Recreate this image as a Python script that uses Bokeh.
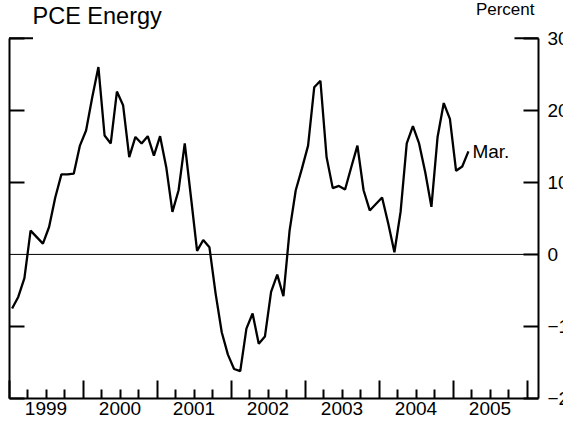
import pandas as pd
from bokeh.plotting import figure
from bokeh.models import Range1d, LinearAxis, FixedTicker, Label
from bokeh.embed import file_html
from bokeh.resources import INLINE

# ---- data ----
months = pd.date_range("1999-01-01", "2005-03-01", freq="MS")
values = [
    -7.5, -5.9, -3.3, 3.3, 2.4, 1.5, 3.8, 7.9, 11.1, 11.1, 11.2, 15.1,      # 1999
    17.2, 21.8, 26.0, 16.5, 15.4, 22.6, 20.7, 13.5, 16.3, 15.4, 16.4, 13.7,  # 2000
    16.4, 12.1, 5.9, 8.9, 15.4, 8.0, 0.5, 2.0, 1.0, -5.4, -10.8, -13.9,      # 2001
    -15.9, -16.2, -10.3, -8.2, -12.4, -11.4, -5.2, -2.8, -5.8, 3.3, 8.9, 11.9,  # 2002
    15.1, 23.2, 24.1, 13.5, 9.2, 9.5, 9.0, 12.1, 15.1, 8.9, 6.1, 7.0,        # 2003
    7.9, 4.3, 0.3, 5.9, 15.4, 17.8, 15.4, 11.4, 6.6, 16.3, 21.0, 18.8,       # 2004
    11.6, 12.2, 14.3,                                                       # 2005
]
years = [1999, 2000, 2001, 2002, 2003, 2004, 2005]
year_labels = ["1999", "2000", "2001", "2002", "2003", "2004", "2005"]
y_ticks = [-20, -10, 0, 10, 20, 30]
left_ticks = [-20, -10, 10, 20, 30]
title_text = "PCE Energy"
unit_text = "Percent"
last_label = "Mar."

xs = [d.year + (d.month - 0.5) / 12 for d in months]

# ---- geometry (page pixels; the canvas sits at the page origin) ----
FONT = "Liberation Sans"
W, H = 563, 423
PX_YR = 74.0
PX_UNIT = 7.207
X_START = years[0] - 8.5 / PX_YR
Y_END = y_ticks[-1] + 37.7 / PX_UNIT
X_RIGHT = years[-1] + 1 + 11.5 / PX_YR
X_LEFT = years[0]

def px_x(px):
    return X_START + px / PX_YR

def px_y(py):
    return Y_END - py / PX_UNIT

p = figure(width=W, height=H, output_backend="svg", toolbar_location=None,
           x_range=Range1d(X_START, X_START + W / PX_YR),
           y_range=Range1d(Y_END - H / PX_UNIT, Y_END),
           x_axis_type=None, y_axis_type=None, min_border=0,
           outline_line_color=None, background_fill_color="white",
           border_fill_color="white")

# left axis (ticks only)
left = LinearAxis(fixed_location=X_LEFT, bounds=(y_ticks[0], y_ticks[-1]),
                  ticker=FixedTicker(ticks=left_ticks),
                  axis_line_width=2, axis_line_color="black",
                  major_tick_line_width=2, major_tick_in=15, major_tick_out=0,
                  minor_tick_line_color=None, major_label_text_color=None)
p.add_layout(left, "left")

# right axis with labels
right = LinearAxis(fixed_location=X_RIGHT, bounds=(y_ticks[0], y_ticks[-1]),
                   ticker=FixedTicker(ticks=y_ticks),
                   axis_line_width=2, axis_line_color="black",
                   major_tick_line_width=2, major_tick_in=15, major_tick_out=0,
                   minor_tick_line_color=None, major_label_standoff=9,
                   major_label_text_font=FONT, major_label_text_font_size="19px",
                   major_label_text_color="black")
p.add_layout(right, "right")

# bottom axis ticks (years major, quarters minor)
bounds_years = years + [years[-1] + 1]
quarters = [y + q / 4 for y in years for q in (1, 2, 3)]
bottom = LinearAxis(fixed_location=y_ticks[0], bounds=(X_LEFT, X_RIGHT),
                    ticker=FixedTicker(ticks=bounds_years, minor_ticks=quarters),
                    axis_line_width=2, axis_line_color="black",
                    major_tick_line_width=2, major_tick_in=18, major_tick_out=0,
                    minor_tick_line_width=2, minor_tick_in=9, minor_tick_out=0,
                    major_label_text_color=None)
p.add_layout(bottom, "below")

# bottom year labels centered in each year
mid = [y + 0.5 for y in years]
blab = LinearAxis(fixed_location=y_ticks[0],
                  ticker=FixedTicker(ticks=mid),
                  major_label_overrides={m: t for m, t in zip(mid, year_labels)},
                  axis_line_color=None, major_tick_line_color=None,
                  minor_tick_line_color=None, major_tick_in=0, major_tick_out=0,
                  major_label_standoff=3, major_label_text_font=FONT,
                  major_label_text_font_size="19px", major_label_text_color="black")
p.add_layout(blab, "below")

# longer tick at 30 on both sides
tl = 24 / PX_YR
p.segment(x0=[X_LEFT, X_RIGHT - tl], y0=[30, 30], x1=[X_LEFT + tl, X_RIGHT], y1=[30, 30],
          line_width=2, line_color="black")

# zero line
p.line([X_LEFT, X_RIGHT], [0, 0], line_width=1, line_color="black")

# data line
p.line(xs, values, line_width=2.3, line_color="black")

# texts
p.add_layout(Label(x=px_x(32), y=px_y(28), text=title_text, text_font=FONT,
                   text_font_size="23.5px", text_color="black"))
p.add_layout(Label(x=px_x(534), y=px_y(18), text=unit_text, text_font=FONT,
                   text_font_size="17px", text_color="black", text_align="right"))
p.add_layout(Label(x=xs[-1], y=values[-1], x_offset=4, text=last_label, text_font=FONT,
                   text_font_size="19px", text_color="black", text_baseline="middle"))

open("out.html", "w").write(file_html(p, INLINE))
